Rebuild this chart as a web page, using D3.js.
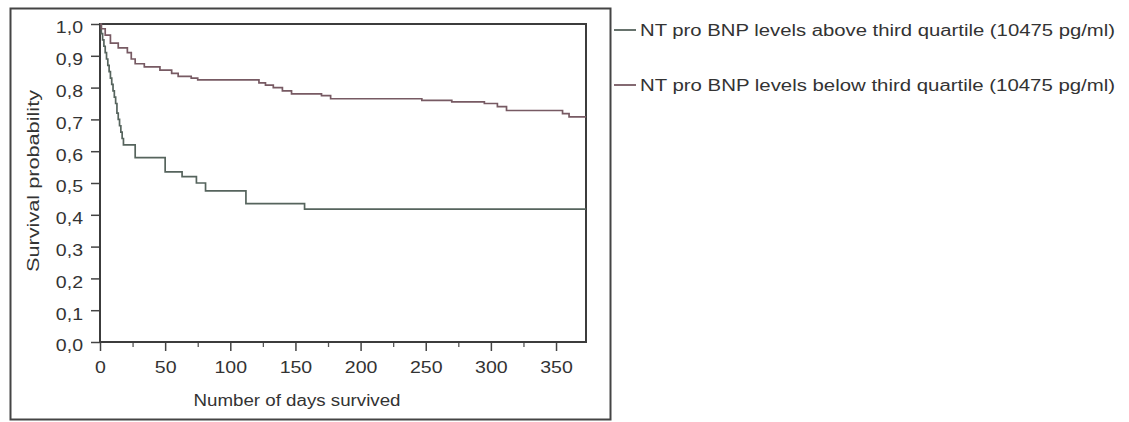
<!DOCTYPE html>
<html>
<head>
<meta charset="utf-8">
<script src="https://cdn.jsdelivr.net/npm/d3@7"></script>
<style>
  html, body { margin: 0; padding: 0; background: #fff; }
  svg { display: block; }
  text { font-family: "Liberation Sans", Arial, sans-serif; fill: #333; }
</style>
</head>
<body>
<svg id="chart" width="1129" height="422"></svg>
<script>
// Kaplan-Meier survival estimates, one step per event time (days)
const aboveDays = [0, 1, 2, 3, 4, 5, 6, 7, 8, 9, 10, 11, 12, 13, 14, 15, 16, 17, 18, 27, 50, 63, 74, 81, 112, 157, 373];
const aboveSurv = [1.0, 0.97, 0.95, 0.93, 0.91, 0.89, 0.87, 0.85, 0.83, 0.81, 0.79, 0.77, 0.75, 0.72, 0.70, 0.68, 0.66, 0.64, 0.62, 0.58, 0.535, 0.52, 0.50, 0.475, 0.435, 0.418, 0.418];

const belowDays = [0, 1, 4, 8, 14, 21, 24, 27, 34, 46, 55, 60, 70, 75, 122, 127, 133, 140, 147, 170, 177, 247, 270, 295, 305, 312, 355, 360, 373];
const belowSurv = [1.0, 0.985, 0.965, 0.94, 0.925, 0.91, 0.89, 0.875, 0.865, 0.855, 0.845, 0.835, 0.83, 0.824, 0.815, 0.808, 0.80, 0.79, 0.78, 0.775, 0.765, 0.76, 0.755, 0.75, 0.74, 0.728, 0.718, 0.708, 0.708];

const seriesNames = [
  "NT pro BNP levels above third quartile (10475 pg/ml)",
  "NT pro BNP levels below third quartile (10475 pg/ml)"
];
const seriesColors = ["#56645d", "#775a63"];

const xMajorTicks = [0, 50, 100, 150, 200, 250, 300, 350];
const xMinorTicks = [25, 75, 125, 175, 225, 275, 325];
const yTicks = [0, 0.1, 0.2, 0.3, 0.4, 0.5, 0.6, 0.7, 0.8, 0.9, 1.0];

const xTitle = "Number of days survived";
const yTitle = "Survival probability";

const svg = d3.select("#chart");

// outer frame around the figure panel
svg.append("rect")
  .attr("x", 10.5).attr("y", 8.5)
  .attr("width", 600).attr("height", 411)
  .attr("fill", "none").attr("stroke", "#444").attr("stroke-width", 2);

const plot = { left: 100, right: 586, top: 24, bottom: 342 };

const x = d3.scaleLinear().domain([0, 373]).range([plot.left, plot.right]);
const y = d3.scaleLinear().domain([0, 1]).range([plot.bottom, plot.top]);

// widen glyphs horizontally by a factor
function stretch(sel, factor) {
  sel.each(function () {
    const w = this.getComputedTextLength();
    d3.select(this).attr("textLength", w * factor).attr("lengthAdjust", "spacingAndGlyphs");
  });
}

// x axis
const xAxis = svg.append("g")
  .attr("transform", `translate(0,${plot.bottom})`)
  .call(d3.axisBottom(x).tickValues(xMajorTicks).tickSize(9).tickPadding(11).tickFormat(d3.format("d")));
xAxis.select(".domain").remove();
xAxis.selectAll("line").attr("stroke", "#444").attr("stroke-width", 1.5);
xAxis.selectAll("text").attr("font-size", 16).attr("fill", "#333").style("font-family", "Liberation Sans, Arial, sans-serif");
stretch(xAxis.selectAll("text"), 1.22);

const xMinor = svg.append("g")
  .attr("transform", `translate(0,${plot.bottom})`)
  .call(d3.axisBottom(x).tickValues(xMinorTicks).tickSize(5).tickFormat(""));
xMinor.select(".domain").remove();
xMinor.selectAll("line").attr("stroke", "#555").attr("stroke-width", 1.3);

// y axis
const yAxis = svg.append("g")
  .attr("transform", `translate(${plot.left},0)`)
  .call(d3.axisLeft(y).tickValues(yTicks).tickSize(9).tickPadding(8)
    .tickFormat(d => d3.format(".1f")(d).replace(".", ",")));
yAxis.select(".domain").remove();
yAxis.selectAll("line").attr("stroke", "#444").attr("stroke-width", 1.5);
yAxis.selectAll("text").attr("font-size", 16).attr("dy", "0.55em").attr("fill", "#333").style("font-family", "Liberation Sans, Arial, sans-serif");
stretch(yAxis.selectAll("text"), 1.22);

// plot border
svg.append("rect")
  .attr("x", plot.left).attr("y", plot.top)
  .attr("width", plot.right - plot.left).attr("height", plot.bottom - plot.top)
  .attr("fill", "none").attr("stroke", "#3c3c3c").attr("stroke-width", 2);

// axis titles
svg.append("text")
  .attr("x", 297).attr("y", 406)
  .attr("text-anchor", "middle").attr("font-size", 16)
  .attr("textLength", 207).attr("lengthAdjust", "spacingAndGlyphs")
  .text(xTitle);

svg.append("text")
  .attr("transform", `translate(39,181) rotate(-90)`)
  .attr("text-anchor", "middle").attr("font-size", 16)
  .attr("textLength", 182).attr("lengthAdjust", "spacingAndGlyphs")
  .text(yTitle);

// survival curves
const line = d3.line().curve(d3.curveStepAfter).x(d => x(d[0])).y(d => y(d[1]));
const series = [
  d3.zip(aboveDays, aboveSurv),
  d3.zip(belowDays, belowSurv)
];
svg.append("g").selectAll("path")
  .data(series)
  .join("path")
  .attr("d", line)
  .attr("fill", "none")
  .attr("stroke", (d, i) => seriesColors[i])
  .attr("stroke-width", 1.7);

// legend
const legend = svg.append("g");
const legendY = [30, 85];
seriesNames.forEach((name, i) => {
  legend.append("line")
    .attr("x1", 614).attr("x2", 636)
    .attr("y1", legendY[i]).attr("y2", legendY[i])
    .attr("stroke", seriesColors[i]).attr("stroke-width", 1.8);
  legend.append("text")
    .attr("x", 640).attr("y", legendY[i] + 6)
    .attr("font-size", 16)
    .attr("textLength", 475).attr("lengthAdjust", "spacingAndGlyphs")
    .text(name);
});
</script>
</body>
</html>
